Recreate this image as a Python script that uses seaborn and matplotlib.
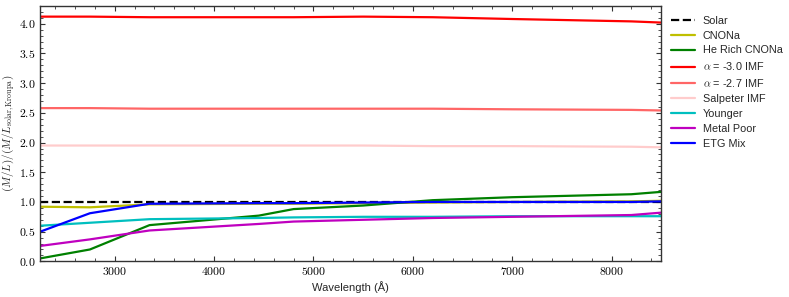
import matplotlib
matplotlib.use("Agg")
import matplotlib.pyplot as plt
import seaborn as sns
import pandas as pd
from matplotlib.ticker import FuncFormatter, MultipleLocator, AutoMinorLocator

sns.set_style("ticks")
plt.rcParams['mathtext.fontset'] = 'cm'
plt.rcParams['font.family'] = ['Liberation Sans', 'DejaVu Sans']

wavelength = [2250, 2750, 3350, 4450, 4800, 5500, 6200, 7000, 8200, 8500]

solar = [1.0, 1.0, 1.0, 1.0, 1.0, 1.0, 1.0, 1.0, 1.0, 1.0]
cnona = [0.92, 0.91, 0.96, 0.97, 0.97, 0.98, 0.99, 1.0, 1.01, 1.02]
he_rich = [0.05, 0.2, 0.61, 0.77, 0.88, 0.94, 1.03, 1.08, 1.13, 1.17]
imf_30 = [4.12, 4.12, 4.11, 4.11, 4.11, 4.12, 4.11, 4.08, 4.04, 4.02]
imf_27 = [2.58, 2.58, 2.57, 2.57, 2.57, 2.57, 2.57, 2.56, 2.55, 2.54]
salpeter = [1.95, 1.95, 1.95, 1.95, 1.95, 1.95, 1.94, 1.94, 1.93, 1.92]
younger = [0.6, 0.65, 0.71, 0.73, 0.74, 0.75, 0.75, 0.76, 0.76, 0.76]
metal_poor = [0.26, 0.37, 0.52, 0.63, 0.67, 0.7, 0.73, 0.75, 0.78, 0.82]
etg_mix = [0.5, 0.81, 0.97, 0.98, 0.98, 0.99, 1.0, 1.0, 1.0, 1.01]

series = [
    ("Solar", solar, "black", "--"),
    ("CNONa", cnona, "#bfbf00", "-"),
    ("He Rich CNONa", he_rich, "green", "-"),
    (r"$\alpha$ = -3.0 IMF", imf_30, "red", "-"),
    (r"$\alpha$ = -2.7 IMF", imf_27, "#ff6666", "-"),
    ("Salpeter IMF", salpeter, "#ffcccc", "-"),
    ("Younger", younger, "#00bfbf", "-"),
    ("Metal Poor", metal_poor, "#bf00bf", "-"),
    ("ETG Mix", etg_mix, "blue", "-"),
]

fig, ax = plt.subplots(figsize=(7.89, 2.97), dpi=100)
for name, vals, col, ls in series:
    df = pd.DataFrame({"wl": wavelength, "ml": vals})
    sns.lineplot(data=df, x="wl", y="ml", color=col, linestyle=ls,
                 linewidth=1.6, label=name, ax=ax)

ax.set_xlim(2250, 8500)
ax.set_ylim(0, 4.3)
ax.xaxis.set_major_locator(MultipleLocator(1000))
ax.xaxis.set_minor_locator(AutoMinorLocator(5))
ax.yaxis.set_major_locator(MultipleLocator(0.5))
ax.yaxis.set_minor_locator(AutoMinorLocator(5))
ax.xaxis.set_major_formatter(FuncFormatter(lambda v, p: r"$%d$" % v))
ax.yaxis.set_major_formatter(FuncFormatter(lambda v, p: r"$%.1f$" % v))
ax.tick_params(which="both", direction="in", top=True, right=True, labelsize=8.5,
               colors="#333333", labelcolor="black")
ax.tick_params(which="major", length=3.5, width=0.8)
ax.tick_params(which="minor", length=2, width=0.6)
for s in ax.spines.values():
    s.set_linewidth(1.0)
    s.set_color("#333333")

ax.set_xlabel("Wavelength (Å)", fontsize=8, labelpad=2)
ax.set_ylabel(r"$(M/L)/(M/L_{\rm solar,Kroupa})$", fontsize=8)
ax.yaxis.set_label_coords(-0.038, 0.5)
ax.legend(loc="upper left", bbox_to_anchor=(1.0, 1.0), frameon=False,
          fontsize=7.8, handlelength=2.2, labelspacing=0.45, handletextpad=0.75)

fig.subplots_adjust(left=0.051, right=0.838, top=0.98, bottom=0.12)
fig.savefig("out.png", dpi=100)
